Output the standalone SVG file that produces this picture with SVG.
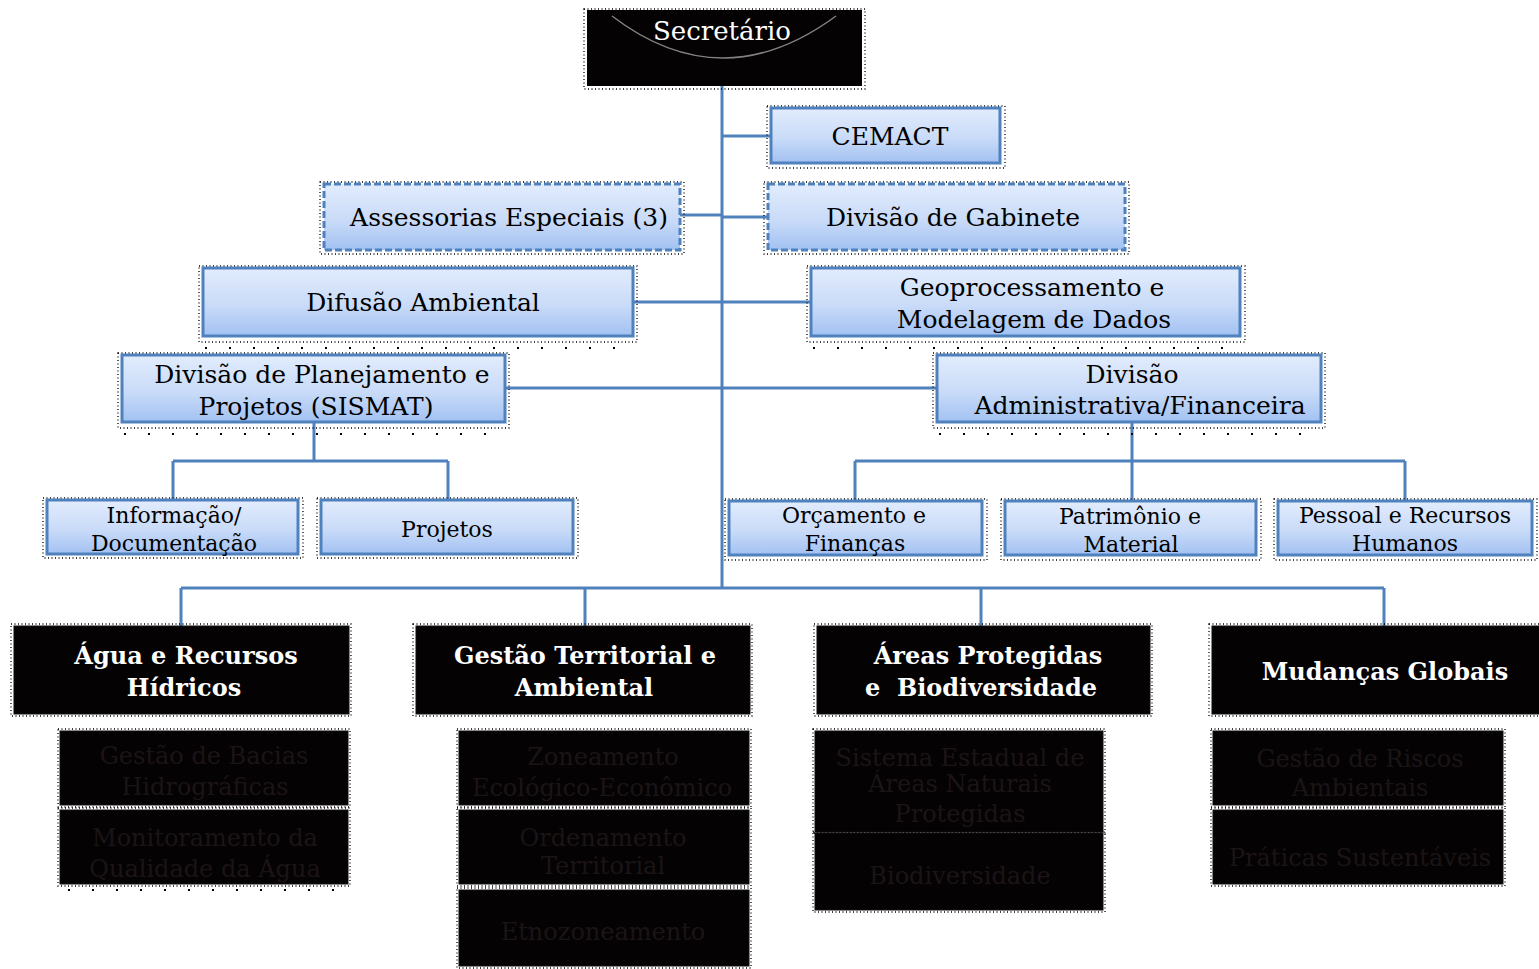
<svg xmlns="http://www.w3.org/2000/svg" width="1539" height="969" viewBox="0 0 1539 969">
  <style>
    .box { fill: url(#blueFill); stroke: #4f81bd; stroke-width: 3; }
    .dash { stroke-dasharray: 7 3; }
    .halo { fill: none; stroke: #000; stroke-width: 1.3; stroke-dasharray: 1 2.5; }
    .dots { fill: none; stroke: #000; stroke-width: 2; stroke-dasharray: 2 22; }
    .dark { fill: #050203; stroke: #111; stroke-width: 1; }
    .t { font-family: "DejaVu Serif", "Liberation Serif", serif; font-size: 25px; fill: #000; text-anchor: middle; white-space: pre; }
    .s { font-size: 22px; }
    .h { font-weight: bold; fill: #fff; font-size: 24px; }
    .dt { fill: #1b1416; font-size: 24px; }
    .wire { stroke: #4f81bd; stroke-width: 3; fill: none; }
  </style>
  <defs>
    <linearGradient id="blueFill" x1="0" y1="0" x2="0" y2="1">
      <stop offset="0" stop-color="#e2ecfd"/>
      <stop offset="0.55" stop-color="#c9dbf8"/>
      <stop offset="1" stop-color="#a2c1f2"/>
    </linearGradient>
  </defs>

  <rect width="1539" height="969" fill="#fff"/>

  <!-- connectors -->
  <g id="connectors">
    <path class="wire" d="M722 86 V588"/>
    <path class="wire" d="M722 136 H771"/>
    <path class="wire" d="M680 215 H722 M722 217 H768"/>
    <path class="wire" d="M633 302 H811"/>
    <path class="wire" d="M505 388 H937"/>
    <path class="wire" d="M314 422 V461 M173 461 H448 M173 461 V500 M448 461 V500"/>
    <path class="wire" d="M1132 422 V501 M855 461 H1405 M855 461 V501 M1405 461 V501"/>
    <path class="wire" d="M181 588 H1384 M181 588 V626 M585 588 V626 M981 588 V626 M1384 588 V626"/>
  </g>

  <!-- top -->
  <g id="secretario">
    <rect class="halo" x="584" y="9" width="281" height="80"/>
    <rect x="587" y="10" width="275" height="76" fill="#050203"/>
    <path d="M612 16 Q722 100 836 16" fill="none" stroke="#fff" stroke-width="1.5" stroke-opacity="0.5"/>
    <text class="t" x="722" y="40" style="fill:#fff;font-size:26px">Secretário</text>
  </g>

  <g id="cemact">
    <rect class="halo" x="767" y="106" width="238" height="62"/>
    <rect class="box" x="771" y="108" width="229" height="55"/>
    <text class="t" x="890" y="145">CEMACT</text>
  </g>

  <g id="assessorias">
    <rect class="halo" x="320" y="182" width="364" height="72"/>
    <rect class="box dash" x="324" y="184" width="356" height="66"/>
    <text class="t" x="509" y="226">Assessorias Especiais (3)</text>
  </g>

  <g id="gabinete">
    <rect class="halo" x="764" y="182" width="365" height="72"/>
    <rect class="box dash" x="768" y="184" width="357" height="66"/>
    <text class="t" x="953" y="226">Divisão de Gabinete</text>
  </g>

  <g id="difusao">
    <rect class="halo" x="199" y="266" width="438" height="76"/>
    <path class="dots" d="M205 348 H633"/>
    <rect class="box" x="203" y="268" width="430" height="68"/>
    <text class="t" x="423" y="311">Difusão Ambiental</text>
  </g>

  <g id="geoprocessamento">
    <rect class="halo" x="807" y="266" width="438" height="76"/>
    <path class="dots" d="M813 348 H1240"/>
    <rect class="box" x="811" y="268" width="429" height="68"/>
    <text class="t" x="1032" y="296">Geoprocessamento e</text>
    <text class="t" x="1034" y="328">Modelagem de Dados</text>
  </g>

  <g id="planejamento">
    <rect class="halo" x="118" y="353" width="391" height="75"/>
    <path class="dots" d="M124 434 H505"/>
    <rect class="box" x="122" y="355" width="383" height="67"/>
    <text class="t" x="322" y="383">Divisão de Planejamento e</text>
    <text class="t" x="316" y="415">Projetos (SISMAT)</text>
  </g>

  <g id="administrativa">
    <rect class="halo" x="933" y="353" width="392" height="75"/>
    <path class="dots" d="M939 434 H1321"/>
    <rect class="box" x="937" y="355" width="384" height="67"/>
    <text class="t" x="1132" y="383">Divisão</text>
    <text class="t" x="1140" y="414">Administrativa/Financeira</text>
  </g>

  <!-- second level -->
  <g id="informacao">
    <rect class="halo" x="43" y="498" width="260" height="60"/>
    <rect class="box" x="47" y="500" width="251" height="54"/>
    <text class="t s" x="174" y="523">Informação/</text>
    <text class="t s" x="174" y="551">Documentação</text>
  </g>

  <g id="projetos">
    <rect class="halo" x="317" y="498" width="261" height="60"/>
    <rect class="box" x="321" y="500" width="252" height="54"/>
    <text class="t s" x="447" y="537">Projetos</text>
  </g>

  <g id="orcamento">
    <rect class="halo" x="725" y="499" width="262" height="61"/>
    <rect class="box" x="729" y="501" width="253" height="54"/>
    <text class="t s" x="854" y="523">Orçamento e</text>
    <text class="t s" x="855" y="551">Finanças</text>
  </g>

  <g id="patrimonio">
    <rect class="halo" x="1001" y="499" width="260" height="61"/>
    <rect class="box" x="1005" y="501" width="251" height="54"/>
    <text class="t s" x="1130" y="524">Patrimônio e</text>
    <text class="t s" x="1131" y="552">Material</text>
  </g>

  <g id="pessoal">
    <rect class="halo" x="1274" y="499" width="263" height="61"/>
    <rect class="box" x="1278" y="501" width="254" height="54"/>
    <text class="t s" x="1405" y="523">Pessoal e Recursos</text>
    <text class="t s" x="1405" y="551">Humanos</text>
  </g>

  <!-- thematic areas -->
  <g id="agua">
    <rect class="halo" x="11" y="624" width="340" height="92"/>
    <rect class="dark" x="14" y="626" width="335" height="88"/>
    <text class="t h" x="186" y="664">Água e Recursos</text>
    <text class="t h" x="184" y="696">Hídricos</text>
  </g>
  <g id="agua-bacias">
    <rect class="halo" x="58" y="729" width="292" height="78"/>
    <rect class="dark" x="60" y="731" width="288" height="74"/>
    <text class="t dt" x="204" y="764">Gestão de Bacias</text>
    <text class="t dt" x="205" y="795">Hidrográficas</text>
  </g>
  <g id="agua-qualidade">
    <rect class="halo" x="58" y="808" width="292" height="78"/>
    <path class="dots" d="M68 890 H348"/>
    <rect class="dark" x="60" y="810" width="288" height="74"/>
    <text class="t dt" x="205" y="846">Monitoramento da</text>
    <text class="t dt" x="205" y="877">Qualidade da Água</text>
  </g>

  <g id="gestao">
    <rect class="halo" x="413" y="624" width="339" height="92"/>
    <rect class="dark" x="416" y="626" width="334" height="88"/>
    <text class="t h" x="585" y="664">Gestão Territorial e</text>
    <text class="t h" x="584" y="696">Ambiental</text>
  </g>
  <g id="gestao-zee">
    <rect class="halo" x="457" y="729" width="294" height="78"/>
    <rect class="dark" x="459" y="731" width="290" height="74"/>
    <text class="t dt" x="603" y="765">Zoneamento</text>
    <text class="t dt" x="602" y="796">Ecológico-Econômico</text>
  </g>
  <g id="gestao-ordenamento">
    <rect class="halo" x="457" y="808" width="294" height="78"/>
    <rect class="dark" x="459" y="810" width="290" height="74"/>
    <text class="t dt" x="603" y="846">Ordenamento</text>
    <text class="t dt" x="603" y="874">Territorial</text>
  </g>
  <g id="gestao-etnozoneamento">
    <rect class="halo" x="457" y="888" width="294" height="80"/>
    <rect class="dark" x="459" y="890" width="290" height="76"/>
    <text class="t dt" x="603" y="940">Etnozoneamento</text>
  </g>

  <g id="areas">
    <rect class="halo" x="814" y="624" width="338" height="92"/>
    <rect class="dark" x="817" y="626" width="333" height="88"/>
    <text class="t h" x="988" y="664">Áreas Protegidas</text>
    <text class="t h" x="981" y="696">e  Biodiversidade</text>
  </g>
  <g id="areas-sistema">
    <rect class="halo" x="813" y="729" width="292" height="104"/>
    <rect class="dark" x="815" y="731" width="288" height="101"/>
    <text class="t dt" x="960" y="766">Sistema Estadual de</text>
    <text class="t dt" x="960" y="792">Áreas Naturais</text>
    <text class="t dt" x="960" y="822">Protegidas</text>
  </g>
  <g id="areas-biodiversidade">
    <rect class="halo" x="813" y="832" width="292" height="80"/>
    <rect class="dark" x="815" y="833" width="288" height="77"/>
    <text class="t dt" x="960" y="884">Biodiversidade</text>
  </g>

  <g id="mudancas">
    <rect class="halo" x="1209" y="624" width="332" height="92"/>
    <rect class="dark" x="1212" y="626" width="329" height="88"/>
    <text class="t h" x="1385" y="680">Mudanças Globais</text>
  </g>
  <g id="mudancas-riscos">
    <rect class="halo" x="1211" y="729" width="294" height="78"/>
    <rect class="dark" x="1213" y="731" width="290" height="74"/>
    <text class="t dt" x="1360" y="767">Gestão de Riscos</text>
    <text class="t dt" x="1360" y="796">Ambientais</text>
  </g>
  <g id="mudancas-praticas">
    <rect class="halo" x="1211" y="808" width="294" height="78"/>
    <rect class="dark" x="1213" y="810" width="290" height="74"/>
    <text class="t dt" x="1360" y="866">Práticas Sustentáveis</text>
  </g>
</svg>
